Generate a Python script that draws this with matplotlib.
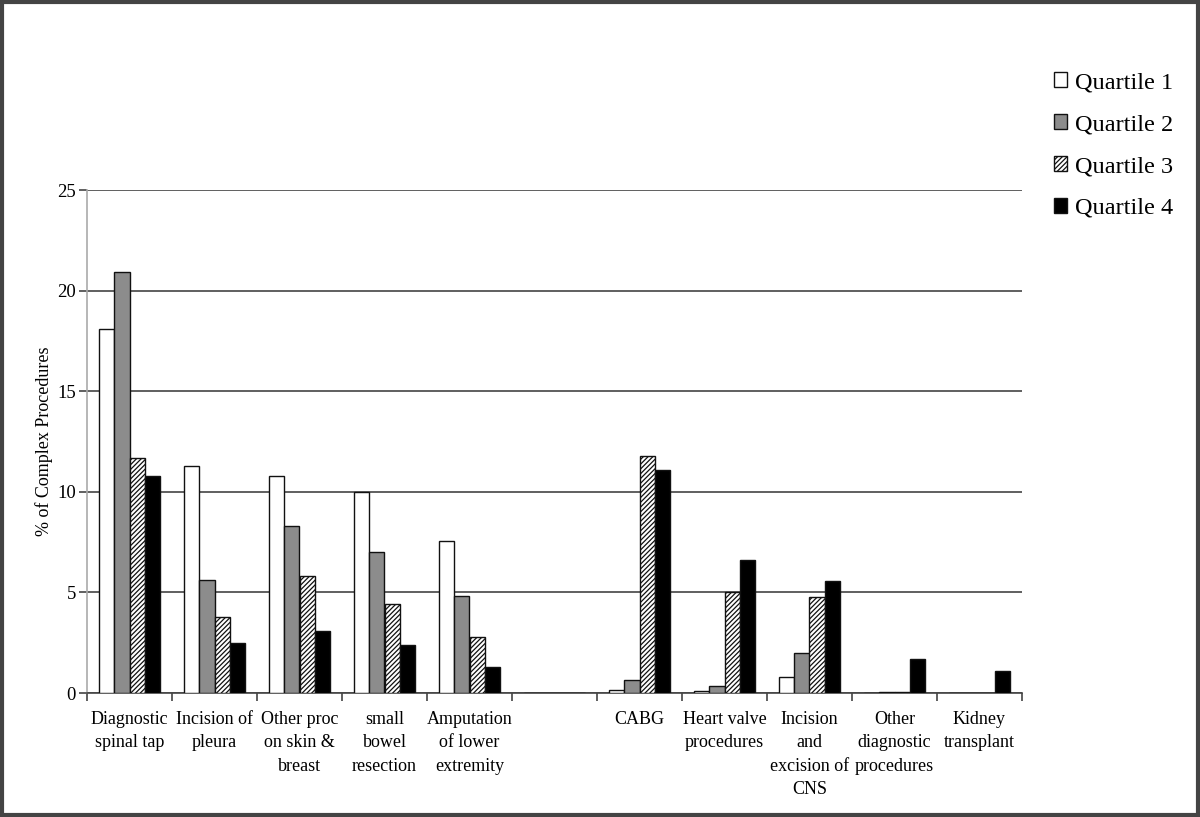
import matplotlib
matplotlib.use("Agg")
import matplotlib.pyplot as plt
from matplotlib.patches import Rectangle
import numpy as np

plt.rcParams['font.family'] = ['Liberation Serif', 'DejaVu Serif']
plt.rcParams['hatch.linewidth'] = 0.9

categories = ["Diagnostic\nspinal tap", "Incision of\npleura", "Other proc\non skin &\nbreast",
              "small\nbowel\nresection", "Amputation\nof lower\nextremity", "",
              "CABG", "Heart valve\nprocedures", "Incision\nand\nexcision of\nCNS",
              "Other\ndiagnostic\nprocedures", "Kidney\ntransplant"]

q1 = [18.1, 11.3, 10.8, 10.0, 7.55, 0, 0.15, 0.1, 0.78, 0.0, 0]
q2 = [20.9, 5.6, 8.3, 7.0, 4.8, 0, 0.65, 0.35, 2.0, 0.05, 0]
q3 = [11.7, 3.8, 5.8, 4.4, 2.8, 0, 11.8, 5.0, 4.77, 0.05, 0]
q4 = [10.8, 2.5, 3.1, 2.4, 1.3, 0, 11.1, 6.6, 5.58, 1.7, 1.1]
series_names = ["Quartile 1", "Quartile 2", "Quartile 3", "Quartile 4"]

fig = plt.figure(figsize=(12, 8.17), dpi=100)
ax = fig.add_axes([87/1200, 1-693/817, 935/1200, 503/817])

x = np.arange(len(categories))
w = 0.182
styles = [dict(facecolor="white", hatch=None),
          dict(facecolor="#8c8c8c", hatch=None),
          dict(facecolor="white", hatch="///////"),
          dict(facecolor="black", hatch=None)]
handles = []
for i, vals in enumerate([q1, q2, q3, q4]):
    b = ax.bar(x + (i - 1.5) * w, vals, width=w, edgecolor="#111111", linewidth=1.0,
               label=series_names[i], zorder=3, **styles[i])
    handles.append(b)

ax.set_xlim(-0.5, len(categories) - 0.5)
ax.set_ylim(0, 25)
ax.set_yticks([0, 5, 10, 15, 20, 25])
ax.yaxis.grid(True, color="#444444", linewidth=1.2, zorder=0)
ax.set_axisbelow(True)

ax.set_xticks(x)
ax.set_xticklabels(categories, fontsize=13, linespacing=1.48, va="top")
ax.set_xticks(np.arange(-0.5, len(categories)), minor=True)
ax.tick_params(axis="x", which="major", length=0, pad=13)
ax.tick_params(axis="x", which="minor", length=6, width=1.2, color="#444444", direction="out")
ax.tick_params(axis="y", length=6, width=1.2, color="#444444", labelsize=13.5, pad=2)

for s in ["top", "right"]:
    ax.spines[s].set_visible(False)
ax.spines["left"].set_color("#aaaaaa")
ax.spines["left"].set_linewidth(1.2)
ax.spines["bottom"].set_color("#444444")
ax.spines["bottom"].set_linewidth(1.2)

ax.set_ylabel("% of Complex Procedures", fontsize=13, labelpad=3)

fig.legend(handles=handles, labels=series_names, loc="upper left",
           bbox_to_anchor=(1032/1200, 1-50/817), frameon=False, fontsize=17.5,
           handlelength=0.55, handleheight=0.6, handletextpad=0.3, labelspacing=0.85)

fig.patches.append(Rectangle((0.002, 0.003), 0.996, 0.994, transform=fig.transFigure,
                             fill=False, edgecolor="#444444", linewidth=3))

fig.savefig("out.png", dpi=100)
